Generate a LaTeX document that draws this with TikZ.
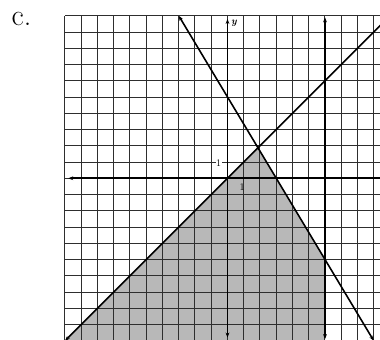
\documentclass[tikz,border=0pt]{standalone}
\usetikzlibrary{arrows.meta}
\begin{document}
\begin{tikzpicture}[x=16.25pt,y=16.25pt,
  gridline/.style={black!82,line width=1pt},
  heavy/.style={black,line width=1.6pt},
  arr/.style={{Stealth[length=5pt,width=3.8pt]}-{Stealth[length=5pt,width=3.8pt]}},
  lab/.style={font=\fontsize{10}{11}\selectfont,inner sep=0pt}]
\useasboundingbox (-14.0,-9.895) rectangle (9.385,10.97);
\clip (-14.0,-9.895) rectangle (9.385,10.97);
% key points
\coordinate (BL) at (-10,-10);
\coordinate (P) at (1.875,1.875);
\coordinate (Q) at (6,-5);
\coordinate (R) at (6,-10);
\coordinate (TR) at (10,10);
\coordinate (Dtop) at (-3,10);
\coordinate (Dbot) at (9,-10);
\coordinate (Vtop) at (6,9.9);
\coordinate (Vbot) at (6,-9.9);
\coordinate (Ytop) at (0,9.8);
\coordinate (Ybot) at (0,-9.8);
\coordinate (Xl) at (-9.8,0);
\coordinate (Xr) at (9.8,0);
% shading
\fill[black!28] (BL) -- (P) -- (Q) -- (R) -- cycle;
% grid
\draw[gridline,step=1] (-10,-10) grid (10,10);
% axes
\draw[heavy,arr] (Xl) -- (Xr);
\draw[heavy,arr] (Ybot) -- (Ytop);
% boundary lines
\draw[heavy,arr] (BL) -- (TR);
\draw[heavy,arr] (Dtop) -- (Dbot);
\draw[heavy,arr] (Vbot) -- (Vtop);
% labels
\node[lab,font=\fontsize{10}{11}\selectfont\itshape\bfseries] (ylab) at (0.4,9.55) {y};
\node[lab,fill=white,inner sep=0.5pt] (one1) at (-0.55,0.94) {1};
\node[lab] (one2) at (0.9,-0.55) {1};
\node[inner sep=0pt,anchor=base west,font=\fontsize{30}{30}\selectfont] (clab) at (-13.3,9.43) {c.};
\end{tikzpicture}
\end{document}
